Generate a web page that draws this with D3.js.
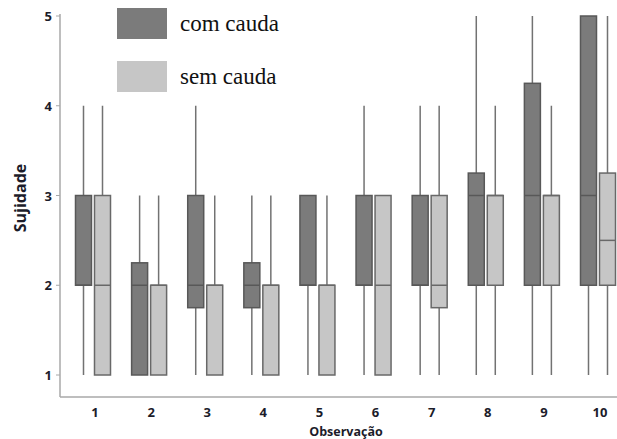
<!DOCTYPE html>
<html>
<head>
<meta charset="utf-8">
<script src="https://cdn.jsdelivr.net/npm/d3@7"></script>
<style>
  body { margin: 0; background: #fff; }
  svg { display: block; }
</style>
</head>
<body>
<div id="chart"></div>
<script>
// observações 1..10
var observacoes = ["1", "2", "3", "4", "5", "6", "7", "8", "9", "10"];
var series = ["com cauda", "sem cauda"];

// [min, q1, mediana, q3, max] por observação
var comCauda = [
  [1, 2, 2, 3, 4],
  [1, 1, 2, 2.25, 3],
  [1, 1.75, 2, 3, 4],
  [1, 1.75, 2, 2.25, 3],
  [1, 2, 2, 3, 3],
  [1, 2, 2, 3, 4],
  [1, 2, 2, 3, 4],
  [1, 2, 3, 3.25, 5],
  [1, 2, 3, 4.25, 5],
  [1, 2, 3, 5, 5]
];
var semCauda = [
  [1, 1, 2, 3, 4],
  [1, 1, 2, 2, 3],
  [1, 1, 2, 2, 3],
  [1, 1, 2, 2, 3],
  [1, 1, 2, 2, 3],
  [1, 1, 2, 3, 3],
  [1, 1.75, 2, 3, 4],
  [1, 2, 3, 3, 4],
  [1, 2, 3, 3, 4],
  [1, 2, 2.5, 3.25, 5]
];
var yTicks = [1, 2, 3, 4, 5];

var width = 617, height = 439;
var fills = ["#7b7b7b", "#c6c6c6"];
var strokes = ["#585858", "#686868"];

var svg = d3.select("#chart").append("svg")
  .attr("width", width)
  .attr("height", height);

var x = d3.scalePoint().domain(observacoes).range([93, 598]);
var y = d3.scaleLinear().domain([1, 5]).range([375, 16]);
var boxW = 16, gap = 1.5;

// eixos
svg.append("line")
  .attr("x1", 60).attr("x2", 60).attr("y1", 14).attr("y2", 397)
  .attr("stroke", "#a8a8a8").attr("stroke-width", 1.5);
svg.append("line")
  .attr("x1", 60).attr("x2", 617).attr("y1", 397).attr("y2", 397)
  .attr("stroke", "#a8a8a8").attr("stroke-width", 1.5);

svg.selectAll(".ytick").data(yTicks).enter().append("line")
  .attr("x1", 56).attr("x2", 60)
  .attr("y1", function (d) { return y(d); })
  .attr("y2", function (d) { return y(d); })
  .attr("stroke", "#a8a8a8");

svg.selectAll(".ylab").data(yTicks).enter().append("text")
  .attr("x", 52)
  .attr("y", function (d) { return y(d) + 5; })
  .attr("text-anchor", "end")
  .style("font-family", "'Open Sans', sans-serif")
  .style("font-weight", "bold")
  .style("font-size", "13px")
  .style("fill", "#1c1c2a")
  .text(function (d) { return d; });

svg.selectAll(".xlab").data(observacoes).enter().append("text")
  .attr("x", function (d) { return x(d) + 2; })
  .attr("y", 417)
  .attr("text-anchor", "middle")
  .style("font-family", "'Open Sans', sans-serif")
  .style("font-weight", "bold")
  .style("font-size", "13px")
  .style("fill", "#1c1c2a")
  .text(function (d) { return d; });

svg.append("text")
  .attr("transform", "translate(26,198) rotate(-90)")
  .attr("text-anchor", "middle")
  .style("font-family", "'Open Sans', sans-serif")
  .style("font-weight", "bold")
  .style("font-size", "16px")
  .style("fill", "#1c1c2a")
  .text("Sujidade");

svg.append("text")
  .attr("x", 346).attr("y", 436)
  .attr("text-anchor", "middle")
  .style("font-family", "'Open Sans', sans-serif")
  .style("font-weight", "bold")
  .style("font-size", "12.5px")
  .style("fill", "#1c1c2a")
  .text("Observação");

// caixas
function drawBoxes(data, idx) {
  var off = idx === 0 ? -gap - boxW : gap;
  var g = svg.append("g");
  var box = g.selectAll("g").data(data).enter().append("g")
    .attr("transform", function (d, i) { return "translate(" + (x(observacoes[i]) + off) + ",0)"; });

  box.append("line")
    .attr("x1", boxW / 2).attr("x2", boxW / 2)
    .attr("y1", function (d) { return y(d[0]); })
    .attr("y2", function (d) { return y(d[4]); })
    .attr("stroke", "#727272").attr("stroke-width", 1.5);

  box.append("rect")
    .attr("x", 0).attr("width", boxW)
    .attr("y", function (d) { return y(d[3]); })
    .attr("height", function (d) { return y(d[1]) - y(d[3]); })
    .attr("fill", fills[idx])
    .attr("stroke", strokes[idx]).attr("stroke-width", 1.5);

  box.append("line")
    .attr("x1", 0).attr("x2", boxW)
    .attr("y1", function (d) { return y(d[2]); })
    .attr("y2", function (d) { return y(d[2]); })
    .attr("stroke", strokes[idx]).attr("stroke-width", 1.5);
}
drawBoxes(comCauda, 0);
drawBoxes(semCauda, 1);

// legenda
var leg = svg.selectAll(".leg").data(series).enter().append("g")
  .attr("transform", function (d, i) { return "translate(117," + (8 + i * 53) + ")"; });
leg.append("rect")
  .attr("width", 50).attr("height", 31)
  .attr("fill", function (d, i) { return fills[i]; });
leg.append("text")
  .attr("x", 63).attr("y", 23)
  .style("font-family", "'Liberation Serif', serif")
  .style("font-size", "23px")
  .style("fill", "#111")
  .text(function (d) { return d; });
</script>
</body>
</html>
